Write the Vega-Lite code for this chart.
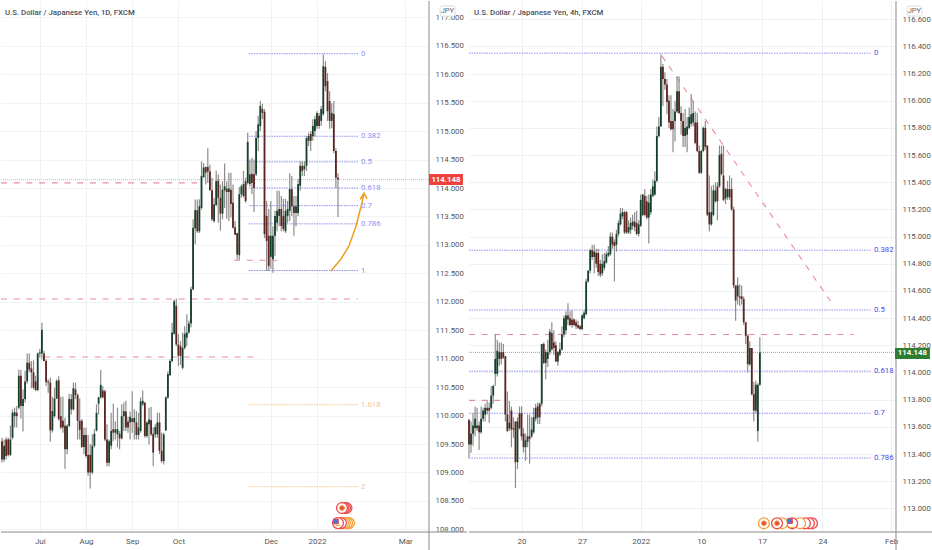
{
"$schema":"https://vega.github.io/schema/vega-lite/v6.json",
"padding":0,
"background":"white",
"bounds":"flush",
"spacing":40,
"config":{"view":{"stroke":null},"axis":{"title":null}},
"datasets":{
"daily":[
{"bar":0,"open":109.55,"high":109.61,"low":109.17,"close":109.23},
{"bar":1,"open":109.23,"high":109.58,"low":109.19,"close":109.47},
{"bar":2,"open":109.58,"high":109.62,"low":109.23,"close":109.29},
{"bar":3,"open":109.58,"high":109.61,"low":109.28,"close":109.31},
{"bar":4,"open":109.31,"high":109.82,"low":109.29,"close":109.58},
{"bar":5,"open":109.61,"high":110.11,"low":109.58,"close":110.05},
{"bar":6,"open":109.99,"high":110.14,"low":109.79,"close":110.06},
{"bar":7,"open":110.05,"high":110.17,"low":109.79,"close":109.99},
{"bar":8,"open":110.14,"high":110.81,"low":110.11,"close":110.70},
{"bar":9,"open":110.70,"high":110.80,"low":109.95,"close":110.17},
{"bar":10,"open":110.17,"high":110.46,"low":109.72,"close":110.29},
{"bar":11,"open":110.29,"high":110.79,"low":110.23,"close":110.60},
{"bar":12,"open":110.60,"high":111.09,"low":110.56,"close":110.93},
{"bar":13,"open":110.93,"high":111.09,"low":110.76,"close":110.81},
{"bar":14,"open":110.83,"high":110.96,"low":110.48,"close":110.76},
{"bar":15,"open":110.76,"high":110.97,"low":110.46,"close":110.49},
{"bar":16,"open":110.60,"high":110.70,"low":110.43,"close":110.45},
{"bar":17,"open":110.45,"high":111.11,"low":110.43,"close":111.09},
{"bar":18,"open":111.09,"high":111.17,"low":111.02,"close":111.11},
{"bar":19,"open":111.09,"high":111.63,"low":110.99,"close":111.51},
{"bar":20,"open":111.09,"high":111.14,"low":110.95,"close":110.96},
{"bar":21,"open":110.96,"high":110.99,"low":110.52,"close":110.59},
{"bar":22,"open":110.60,"high":110.64,"low":110.40,"close":110.58},
{"bar":23,"open":110.58,"high":110.67,"low":109.54,"close":109.74},
{"bar":24,"open":109.74,"high":110.33,"low":109.70,"close":110.08},
{"bar":25,"open":109.99,"high":110.49,"low":109.96,"close":110.30},
{"bar":26,"open":110.30,"high":110.64,"low":110.29,"close":110.61},
{"bar":27,"open":110.62,"high":110.69,"low":109.91,"close":109.94},
{"bar":28,"open":109.99,"high":110.33,"low":109.76,"close":109.79},
{"bar":29,"open":109.91,"high":110.33,"low":109.70,"close":109.79},
{"bar":30,"open":109.82,"high":109.96,"low":109.06,"close":109.41},
{"bar":31,"open":109.41,"high":109.85,"low":109.32,"close":109.82},
{"bar":32,"open":109.82,"high":110.38,"low":109.80,"close":110.29},
{"bar":33,"open":110.29,"high":110.38,"low":110.02,"close":110.11},
{"bar":34,"open":110.11,"high":110.58,"low":110.09,"close":110.48},
{"bar":35,"open":110.46,"high":110.58,"low":110.29,"close":110.36},
{"bar":36,"open":110.36,"high":110.39,"low":109.58,"close":109.91},
{"bar":37,"open":109.91,"high":110.30,"low":109.58,"close":109.75},
{"bar":38,"open":109.91,"high":109.94,"low":109.43,"close":109.45},
{"bar":39,"open":109.45,"high":109.79,"low":109.32,"close":109.66},
{"bar":40,"open":109.66,"high":109.79,"low":109.26,"close":109.29},
{"bar":41,"open":109.31,"high":109.66,"low":108.94,"close":109.00},
{"bar":42,"open":109.31,"high":109.50,"low":108.72,"close":109.00},
{"bar":43,"open":109.00,"high":109.67,"low":108.97,"close":109.47},
{"bar":44,"open":109.47,"high":109.76,"low":109.44,"close":109.68},
{"bar":45,"open":109.74,"high":110.20,"low":109.72,"close":110.05},
{"bar":46,"open":110.21,"high":110.33,"low":110.02,"close":110.32},
{"bar":47,"open":110.32,"high":110.80,"low":110.30,"close":110.54},
{"bar":48,"open":110.44,"high":110.52,"low":110.30,"close":110.32},
{"bar":49,"open":110.43,"high":110.46,"low":109.55,"close":109.58},
{"bar":50,"open":109.58,"high":109.85,"low":109.11,"close":109.17},
{"bar":51,"open":109.17,"high":109.58,"low":109.11,"close":109.55},
{"bar":52,"open":109.47,"high":110.05,"low":109.41,"close":109.73},
{"bar":53,"open":109.76,"high":110.21,"low":109.55,"close":109.70},
{"bar":54,"open":109.70,"high":109.90,"low":109.58,"close":109.76},
{"bar":55,"open":109.67,"high":110.14,"low":109.44,"close":109.76},
{"bar":56,"open":109.68,"high":109.73,"low":109.41,"close":109.60},
{"bar":57,"open":109.60,"high":110.20,"low":109.58,"close":109.99},
{"bar":58,"open":109.99,"high":110.23,"low":109.73,"close":110.08},
{"bar":59,"open":110.07,"high":110.26,"low":109.73,"close":109.79},
{"bar":60,"open":109.89,"high":109.98,"low":109.70,"close":109.79},
{"bar":61,"open":109.88,"high":110.07,"low":109.58,"close":109.98},
{"bar":62,"open":109.95,"high":110.43,"low":109.70,"close":109.89},
{"bar":63,"open":109.88,"high":110.11,"low":109.58,"close":109.96},
{"bar":64,"open":109.88,"high":110.08,"low":109.58,"close":109.66},
{"bar":65,"open":109.66,"high":110.05,"low":109.58,"close":109.79},
{"bar":66,"open":109.73,"high":110.32,"low":109.70,"close":110.25},
{"bar":67,"open":110.20,"high":110.44,"low":110.17,"close":110.26},
{"bar":68,"open":110.23,"high":110.23,"low":109.61,"close":109.64},
{"bar":69,"open":109.64,"high":109.90,"low":109.61,"close":109.88},
{"bar":70,"open":109.85,"high":110.14,"low":109.49,"close":109.93},
{"bar":71,"open":109.92,"high":110.15,"low":109.64,"close":109.67},
{"bar":72,"open":109.68,"high":109.79,"low":109.11,"close":109.35},
{"bar":73,"open":109.67,"high":109.85,"low":109.61,"close":109.80},
{"bar":74,"open":109.67,"high":110.05,"low":109.61,"close":109.88},
{"bar":75,"open":109.88,"high":110.05,"low":109.32,"close":109.38},
{"bar":76,"open":109.38,"high":109.70,"low":109.17,"close":109.20},
{"bar":77,"open":109.20,"high":109.70,"low":109.14,"close":109.67},
{"bar":78,"open":109.74,"high":110.34,"low":109.73,"close":110.32},
{"bar":79,"open":110.32,"high":110.78,"low":110.29,"close":110.73},
{"bar":80,"open":110.71,"high":110.99,"low":110.70,"close":110.96},
{"bar":81,"open":110.96,"high":111.63,"low":110.93,"close":111.46},
{"bar":82,"open":111.44,"high":112.04,"low":111.42,"close":112.01},
{"bar":83,"open":111.93,"high":112.06,"low":111.22,"close":111.25},
{"bar":84,"open":111.25,"high":111.43,"low":110.87,"close":111.05},
{"bar":85,"open":111.22,"high":111.31,"low":110.89,"close":111.05},
{"bar":86,"open":110.84,"high":111.46,"low":110.81,"close":111.19},
{"bar":87,"open":111.19,"high":111.57,"low":111.16,"close":111.44},
{"bar":88,"open":111.37,"high":111.78,"low":111.22,"close":111.46},
{"bar":89,"open":111.46,"high":111.67,"low":111.44,"close":111.62},
{"bar":90,"open":111.62,"high":112.27,"low":111.55,"close":112.22},
{"bar":91,"open":112.22,"high":113.45,"low":112.20,"close":113.30},
{"bar":92,"open":113.29,"high":113.80,"low":113.01,"close":113.61},
{"bar":93,"open":113.61,"high":113.80,"low":113.21,"close":113.24},
{"bar":94,"open":113.24,"high":113.80,"low":113.21,"close":113.68},
{"bar":95,"open":113.65,"high":114.47,"low":113.62,"close":114.21},
{"bar":96,"open":114.19,"high":114.44,"low":114.18,"close":114.36},
{"bar":97,"open":114.37,"high":114.38,"low":114.06,"close":114.27},
{"bar":98,"open":114.37,"high":114.70,"low":114.09,"close":114.29},
{"bar":99,"open":114.29,"high":114.41,"low":113.95,"close":113.96},
{"bar":100,"open":113.96,"high":114.18,"low":113.42,"close":113.45},
{"bar":101,"open":113.42,"high":113.83,"low":113.39,"close":113.71},
{"bar":102,"open":113.70,"high":114.31,"low":113.68,"close":114.12},
{"bar":103,"open":114.13,"high":114.24,"low":113.39,"close":113.83},
{"bar":104,"open":113.83,"high":114.06,"low":113.25,"close":113.55},
{"bar":105,"open":113.55,"high":114.12,"low":113.45,"close":113.97},
{"bar":106,"open":113.96,"high":114.43,"low":113.65,"close":114.03},
{"bar":107,"open":113.99,"high":114.12,"low":113.46,"close":113.93},
{"bar":108,"open":113.93,"high":114.27,"low":113.42,"close":113.99},
{"bar":109,"open":113.97,"high":114.27,"low":113.48,"close":113.72},
{"bar":110,"open":113.74,"high":114.06,"low":113.29,"close":113.30},
{"bar":111,"open":113.31,"high":113.42,"low":113.17,"close":113.18},
{"bar":112,"open":113.21,"high":113.21,"low":112.74,"close":112.83},
{"bar":113,"open":112.82,"high":114.02,"low":112.74,"close":113.89},
{"bar":114,"open":113.89,"high":114.06,"low":113.83,"close":114.03},
{"bar":115,"open":113.86,"high":114.30,"low":113.83,"close":114.07},
{"bar":116,"open":114.12,"high":114.18,"low":113.74,"close":113.77},
{"bar":117,"open":114.09,"high":114.97,"low":114.06,"close":114.81},
{"bar":118,"open":114.07,"high":114.50,"low":114.03,"close":114.24},
{"bar":119,"open":114.25,"high":114.53,"low":113.89,"close":114.09},
{"bar":120,"open":114.24,"high":114.50,"low":113.58,"close":114.00},
{"bar":121,"open":114.24,"high":115.00,"low":114.21,"close":114.88},
{"bar":122,"open":114.88,"high":115.27,"low":114.65,"close":115.12},
{"bar":123,"open":115.09,"high":115.53,"low":115.00,"close":115.44},
{"bar":124,"open":115.39,"high":115.48,"low":115.21,"close":115.32},
{"bar":125,"open":115.34,"high":115.39,"low":113.12,"close":113.19},
{"bar":126,"open":113.51,"high":113.77,"low":112.54,"close":113.07},
{"bar":127,"open":113.16,"high":113.63,"low":112.54,"close":112.63},
{"bar":128,"open":112.79,"high":113.77,"low":112.58,"close":113.16},
{"bar":129,"open":112.75,"high":113.33,"low":112.51,"close":113.16},
{"bar":130,"open":113.16,"high":113.60,"low":112.81,"close":113.51},
{"bar":131,"open":113.39,"high":113.95,"low":113.24,"close":113.60},
{"bar":132,"open":113.51,"high":113.95,"low":113.33,"close":113.63},
{"bar":133,"open":113.63,"high":113.86,"low":113.24,"close":113.33},
{"bar":134,"open":113.51,"high":113.81,"low":113.24,"close":113.28},
{"bar":135,"open":113.24,"high":113.81,"low":113.21,"close":113.60},
{"bar":136,"open":113.51,"high":113.77,"low":113.39,"close":113.63},
{"bar":137,"open":113.60,"high":114.26,"low":113.42,"close":113.98},
{"bar":138,"open":113.98,"high":114.21,"low":113.51,"close":113.68},
{"bar":139,"open":113.68,"high":113.86,"low":113.16,"close":113.56},
{"bar":140,"open":113.56,"high":113.86,"low":113.33,"close":113.68},
{"bar":141,"open":113.56,"high":114.16,"low":113.51,"close":114.07},
{"bar":142,"open":114.04,"high":114.47,"low":113.95,"close":114.39},
{"bar":143,"open":114.39,"high":114.47,"low":114.21,"close":114.30},
{"bar":144,"open":114.33,"high":114.47,"low":114.21,"close":114.39},
{"bar":145,"open":114.39,"high":114.91,"low":114.30,"close":114.88},
{"bar":146,"open":114.83,"high":114.97,"low":114.74,"close":114.91},
{"bar":147,"open":114.95,"high":115.00,"low":114.65,"close":114.83},
{"bar":148,"open":114.91,"high":115.21,"low":114.83,"close":115.09},
{"bar":149,"open":115.00,"high":115.27,"low":114.91,"close":115.21},
{"bar":150,"open":115.09,"high":115.35,"low":115.04,"close":115.32},
{"bar":151,"open":115.27,"high":115.32,"low":115.04,"close":115.09},
{"bar":152,"open":115.18,"high":115.44,"low":115.09,"close":115.39},
{"bar":153,"open":115.30,"high":116.35,"low":115.27,"close":116.14},
{"bar":154,"open":116.13,"high":116.23,"low":115.70,"close":115.79},
{"bar":155,"open":115.88,"high":116.02,"low":115.18,"close":115.35},
{"bar":156,"open":115.53,"high":115.70,"low":115.04,"close":115.18},
{"bar":157,"open":115.18,"high":115.49,"low":115.05,"close":115.32},
{"bar":158,"open":115.30,"high":115.53,"low":114.61,"close":114.65},
{"bar":159,"open":114.65,"high":114.70,"low":114.00,"close":114.18},
{"bar":160,"open":114.18,"high":114.26,"low":113.49,"close":114.148}
],
"h4":[
{"bar":0,"open":113.65,"high":113.66,"low":113.37,"close":113.47},
{"bar":1,"open":113.47,"high":113.64,"low":113.41,"close":113.55},
{"bar":2,"open":113.55,"high":113.70,"low":113.46,"close":113.61},
{"bar":3,"open":113.59,"high":113.75,"low":113.53,"close":113.66},
{"bar":4,"open":113.59,"high":113.74,"low":113.57,"close":113.61},
{"bar":5,"open":113.61,"high":113.64,"low":113.43,"close":113.56},
{"bar":6,"open":113.56,"high":113.75,"low":113.55,"close":113.66},
{"bar":7,"open":113.66,"high":113.74,"low":113.64,"close":113.72},
{"bar":8,"open":113.69,"high":113.77,"low":113.64,"close":113.74},
{"bar":9,"open":113.74,"high":113.79,"low":113.69,"close":113.72},
{"bar":10,"open":113.74,"high":113.78,"low":113.63,"close":113.72},
{"bar":11,"open":113.74,"high":113.90,"low":113.73,"close":113.83},
{"bar":12,"open":113.83,"high":113.91,"low":113.77,"close":113.90},
{"bar":13,"open":113.99,"high":114.28,"low":113.90,"close":114.10},
{"bar":14,"open":113.99,"high":114.24,"low":113.97,"close":114.16},
{"bar":15,"open":114.10,"high":114.22,"low":114.05,"close":114.15},
{"bar":16,"open":114.15,"high":114.22,"low":114.06,"close":114.10},
{"bar":17,"open":114.15,"high":114.21,"low":114.10,"close":114.11},
{"bar":18,"open":114.12,"high":114.12,"low":113.64,"close":113.69},
{"bar":19,"open":113.69,"high":113.86,"low":113.56,"close":113.57},
{"bar":20,"open":113.59,"high":113.79,"low":113.57,"close":113.63},
{"bar":21,"open":113.72,"high":113.75,"low":113.45,"close":113.58},
{"bar":22,"open":113.59,"high":113.67,"low":113.52,"close":113.58},
{"bar":23,"open":113.64,"high":113.64,"low":113.15,"close":113.34},
{"bar":24,"open":113.34,"high":113.67,"low":113.29,"close":113.64},
{"bar":25,"open":113.70,"high":113.75,"low":113.58,"close":113.59},
{"bar":26,"open":113.70,"high":113.75,"low":113.50,"close":113.53},
{"bar":27,"open":113.55,"high":113.59,"low":113.41,"close":113.45},
{"bar":28,"open":113.45,"high":113.55,"low":113.35,"close":113.50},
{"bar":29,"open":113.49,"high":113.69,"low":113.45,"close":113.53},
{"bar":30,"open":113.53,"high":113.69,"low":113.33,"close":113.51},
{"bar":31,"open":113.53,"high":113.67,"low":113.52,"close":113.58},
{"bar":32,"open":113.56,"high":113.74,"low":113.55,"close":113.67},
{"bar":33,"open":113.66,"high":113.77,"low":113.64,"close":113.74},
{"bar":34,"open":113.75,"high":113.78,"low":113.62,"close":113.67},
{"bar":35,"open":113.77,"high":113.78,"low":113.62,"close":113.67},
{"bar":36,"open":113.77,"high":114.21,"low":113.75,"close":114.21},
{"bar":37,"open":114.21,"high":114.22,"low":114.06,"close":114.07},
{"bar":38,"open":114.07,"high":114.17,"low":113.95,"close":114.15},
{"bar":39,"open":114.10,"high":114.24,"low":114.04,"close":114.15},
{"bar":40,"open":114.15,"high":114.32,"low":114.13,"close":114.30},
{"bar":41,"open":114.29,"high":114.37,"low":114.16,"close":114.17},
{"bar":42,"open":114.22,"high":114.31,"low":114.13,"close":114.18},
{"bar":43,"open":114.20,"high":114.23,"low":114.08,"close":114.08},
{"bar":44,"open":114.08,"high":114.16,"low":114.05,"close":114.15},
{"bar":45,"open":114.13,"high":114.22,"low":114.12,"close":114.17},
{"bar":46,"open":114.17,"high":114.34,"low":114.16,"close":114.28},
{"bar":47,"open":114.28,"high":114.42,"low":114.26,"close":114.40},
{"bar":48,"open":114.31,"high":114.45,"low":114.28,"close":114.42},
{"bar":49,"open":114.42,"high":114.51,"low":114.35,"close":114.39},
{"bar":50,"open":114.40,"high":114.45,"low":114.34,"close":114.35},
{"bar":51,"open":114.39,"high":114.46,"low":114.33,"close":114.35},
{"bar":52,"open":114.39,"high":114.40,"low":114.34,"close":114.35},
{"bar":53,"open":114.37,"high":114.39,"low":114.32,"close":114.34},
{"bar":54,"open":114.35,"high":114.38,"low":114.32,"close":114.33},
{"bar":55,"open":114.34,"high":114.35,"low":114.31,"close":114.32},
{"bar":56,"open":114.32,"high":114.43,"low":114.31,"close":114.42},
{"bar":57,"open":114.40,"high":114.46,"low":114.39,"close":114.44},
{"bar":58,"open":114.43,"high":114.69,"low":114.42,"close":114.67},
{"bar":59,"open":114.67,"high":114.75,"low":114.66,"close":114.75},
{"bar":60,"open":114.75,"high":114.91,"low":114.73,"close":114.90},
{"bar":61,"open":114.90,"high":114.94,"low":114.83,"close":114.85},
{"bar":62,"open":114.85,"high":114.94,"low":114.73,"close":114.89},
{"bar":63,"open":114.88,"high":114.91,"low":114.77,"close":114.80},
{"bar":64,"open":114.88,"high":114.91,"low":114.71,"close":114.74},
{"bar":65,"open":114.80,"high":114.83,"low":114.70,"close":114.72},
{"bar":66,"open":114.73,"high":114.87,"low":114.71,"close":114.80},
{"bar":67,"open":114.77,"high":114.88,"low":114.75,"close":114.82},
{"bar":68,"open":114.81,"high":114.89,"low":114.80,"close":114.87},
{"bar":69,"open":114.86,"high":114.93,"low":114.85,"close":114.88},
{"bar":70,"open":114.87,"high":115.03,"low":114.86,"close":115.00},
{"bar":71,"open":115.00,"high":115.03,"low":114.91,"close":114.94},
{"bar":72,"open":114.96,"high":114.98,"low":114.67,"close":114.93},
{"bar":73,"open":114.94,"high":115.05,"low":114.89,"close":115.02},
{"bar":74,"open":115.02,"high":115.12,"low":115.00,"close":115.10},
{"bar":75,"open":115.09,"high":115.21,"low":115.08,"close":115.17},
{"bar":76,"open":115.15,"high":115.21,"low":115.13,"close":115.18},
{"bar":77,"open":115.18,"high":115.19,"low":115.02,"close":115.03},
{"bar":78,"open":115.18,"high":115.19,"low":115.02,"close":115.03},
{"bar":79,"open":115.03,"high":115.12,"low":115.02,"close":115.07},
{"bar":80,"open":115.05,"high":115.14,"low":115.02,"close":115.10},
{"bar":81,"open":115.08,"high":115.16,"low":115.05,"close":115.11},
{"bar":82,"open":115.11,"high":115.18,"low":115.04,"close":115.07},
{"bar":83,"open":115.10,"high":115.19,"low":115.01,"close":115.02},
{"bar":84,"open":115.02,"high":115.12,"low":115.00,"close":115.09},
{"bar":85,"open":115.08,"high":115.31,"low":115.07,"close":115.27},
{"bar":86,"open":115.16,"high":115.31,"low":115.15,"close":115.31},
{"bar":87,"open":115.30,"high":115.35,"low":115.15,"close":115.16},
{"bar":88,"open":115.26,"high":115.30,"low":115.13,"close":115.14},
{"bar":89,"open":115.14,"high":115.31,"low":114.95,"close":115.25},
{"bar":90,"open":115.18,"high":115.35,"low":115.16,"close":115.31},
{"bar":91,"open":115.30,"high":115.42,"low":115.29,"close":115.37},
{"bar":92,"open":115.31,"high":115.48,"low":115.30,"close":115.41},
{"bar":93,"open":115.41,"high":115.81,"low":115.40,"close":115.74},
{"bar":94,"open":115.74,"high":115.88,"low":115.73,"close":115.81},
{"bar":95,"open":115.81,"high":116.34,"low":115.81,"close":116.25},
{"bar":96,"open":116.25,"high":116.27,"low":115.96,"close":116.16},
{"bar":97,"open":116.16,"high":116.21,"low":116.08,"close":116.12},
{"bar":98,"open":116.12,"high":116.16,"low":115.90,"close":115.99},
{"bar":99,"open":116.00,"high":116.04,"low":115.80,"close":115.84},
{"bar":100,"open":115.85,"high":116.04,"low":115.78,"close":115.79},
{"bar":101,"open":115.85,"high":115.94,"low":115.62,"close":115.79},
{"bar":102,"open":115.85,"high":116.00,"low":115.70,"close":115.92},
{"bar":103,"open":115.92,"high":116.18,"low":115.91,"close":116.07},
{"bar":104,"open":116.07,"high":116.18,"low":115.90,"close":115.91},
{"bar":105,"open":115.91,"high":115.96,"low":115.75,"close":115.85},
{"bar":106,"open":115.85,"high":115.91,"low":115.66,"close":115.74},
{"bar":107,"open":115.74,"high":115.94,"low":115.66,"close":115.80},
{"bar":108,"open":115.75,"high":115.88,"low":115.62,"close":115.81},
{"bar":109,"open":115.80,"high":115.95,"low":115.79,"close":115.88},
{"bar":110,"open":115.83,"high":116.05,"low":115.81,"close":115.90},
{"bar":111,"open":115.84,"high":116.00,"low":115.81,"close":115.91},
{"bar":112,"open":115.84,"high":115.92,"low":115.68,"close":115.69},
{"bar":113,"open":115.84,"high":115.91,"low":115.62,"close":115.63},
{"bar":114,"open":115.63,"high":115.67,"low":115.46,"close":115.47},
{"bar":115,"open":115.47,"high":115.64,"low":115.46,"close":115.63},
{"bar":116,"open":115.63,"high":115.81,"low":115.62,"close":115.80},
{"bar":117,"open":115.80,"high":115.85,"low":115.64,"close":115.66},
{"bar":118,"open":115.67,"high":115.67,"low":115.15,"close":115.16},
{"bar":119,"open":115.18,"high":115.45,"low":115.04,"close":115.09},
{"bar":120,"open":115.09,"high":115.37,"low":115.08,"close":115.18},
{"bar":121,"open":115.16,"high":115.38,"low":115.15,"close":115.34},
{"bar":122,"open":115.26,"high":115.40,"low":115.25,"close":115.34},
{"bar":123,"open":115.37,"high":115.40,"low":115.12,"close":115.26},
{"bar":124,"open":115.37,"high":115.67,"low":115.36,"close":115.60},
{"bar":125,"open":115.61,"high":115.67,"low":115.45,"close":115.46},
{"bar":126,"open":115.45,"high":115.67,"low":115.26,"close":115.27},
{"bar":127,"open":115.28,"high":115.36,"low":115.24,"close":115.35},
{"bar":128,"open":115.29,"high":115.41,"low":115.27,"close":115.35},
{"bar":129,"open":115.35,"high":115.45,"low":115.27,"close":115.29},
{"bar":130,"open":115.35,"high":115.43,"low":115.19,"close":115.20},
{"bar":131,"open":115.20,"high":115.22,"low":114.62,"close":114.64},
{"bar":132,"open":114.64,"high":114.64,"low":114.38,"close":114.53},
{"bar":133,"open":114.56,"high":114.70,"low":114.50,"close":114.64},
{"bar":134,"open":114.56,"high":114.65,"low":114.49,"close":114.55},
{"bar":135,"open":114.56,"high":114.64,"low":114.50,"close":114.54},
{"bar":136,"open":114.54,"high":114.56,"low":114.35,"close":114.37},
{"bar":137,"open":114.37,"high":114.37,"low":114.21,"close":114.27},
{"bar":138,"open":114.27,"high":114.28,"low":114.00,"close":114.06},
{"bar":139,"open":114.06,"high":114.23,"low":114.05,"close":114.18},
{"bar":140,"open":114.18,"high":114.18,"low":113.83,"close":113.84},
{"bar":141,"open":113.84,"high":113.93,"low":113.64,"close":113.72},
{"bar":142,"open":113.72,"high":113.94,"low":113.70,"close":113.91},
{"bar":143,"open":113.57,"high":113.92,"low":113.49,"close":113.91},
{"bar":144,"open":113.91,"high":114.26,"low":113.90,"close":114.148}
],
"fibLeft":[
{"bar":117.6,"bar2":169.5,"price":116.36,"label":"0","family":"fib"},
{"bar":117.6,"bar2":169.5,"price":114.91,"label":"0.382","family":"fib"},
{"bar":117.6,"bar2":169.5,"price":114.46,"label":"0.5","family":"fib"},
{"bar":117.6,"bar2":169.5,"price":114.0,"label":"0.618","family":"fib"},
{"bar":117.6,"bar2":169.5,"price":113.69,"label":"0.7","family":"fib"},
{"bar":117.6,"bar2":169.5,"price":113.37,"label":"0.786","family":"fib"},
{"bar":117.6,"bar2":169.5,"price":112.55,"label":"1","family":"fib"},
{"bar":117.6,"bar2":169.5,"price":110.19,"label":"1.618","family":"ext"},
{"bar":117.6,"bar2":169.5,"price":108.75,"label":"2","family":"ext"}
],
"fibRight":[
{"bar":0,"bar2":199,"price":116.35,"label":"0","family":"fib"},
{"bar":0,"bar2":199,"price":114.90,"label":"0.382","family":"fib"},
{"bar":0,"bar2":199,"price":114.46,"label":"0.5","family":"fib"},
{"bar":0,"bar2":199,"price":114.01,"label":"0.618","family":"fib"},
{"bar":0,"bar2":199,"price":113.70,"label":"0.7","family":"fib"},
{"bar":0,"bar2":199,"price":113.37,"label":"0.786","family":"fib"}
],
"dashLeft":[
{"bar":-0.476,"bar2":169.5,"price":112.05,"price2":112.05},
{"bar":20,"bar2":121,"price":111.03,"price2":111.03},
{"bar":-0.476,"bar2":93,"price":114.09,"price2":114.09},
{"bar":110.5,"bar2":131,"price":112.73,"price2":112.73}
],
"dashRight":[
{"bar":0,"bar2":190.4,"price":114.28,"price2":114.28},
{"bar":0,"bar2":15.4,"price":113.795,"price2":113.795},
{"bar":95.5,"bar2":178.9,"price":116.33,"price2":114.526}
],
"lastLeft":[{"bar":-0.476,"bar2":203.33,"price":114.148}],
"lastRight":[{"bar":0,"bar2":211.4,"price":114.148}],
"arrow":[
{"bar":156.7,"price":112.54,"part":"curve"},
{"bar":161.4,"price":112.75,"part":"curve"},
{"bar":165.2,"price":112.98,"part":"curve"},
{"bar":168.6,"price":113.33,"part":"curve"},
{"bar":171,"price":113.68,"part":"curve"},
{"bar":172.4,"price":113.91,"part":"curve"},
{"bar":170.5,"price":113.80,"part":"head"},
{"bar":172.4,"price":113.91,"part":"head"},
{"bar":173.8,"price":113.81,"part":"head"}
],
"ringsLeft":[
{"bar":165.2,"price":108.11,"kind":"orange"},
{"bar":164.3,"price":108.11,"kind":"orange"},
{"bar":163.3,"price":108.11,"kind":"orange"},
{"bar":162.4,"price":108.11,"kind":"orange"},
{"bar":161.4,"price":108.11,"kind":"red"},
{"bar":160,"price":108.11,"kind":"red"},
{"bar":164,"price":108.376,"kind":"red"},
{"bar":163.3,"price":108.376,"kind":"red"},
{"bar":162.6,"price":108.376,"kind":"red"},
{"bar":161.9,"price":108.376,"kind":"red"}
],
"dotsLeft":[
{"bar":161.9,"price":108.376,"kind":"dot"},
{"bar":159,"price":108.14,"kind":"canton"},
{"bar":160,"price":108.07,"kind":"stripe"}
],
"ringsRight":[
{"bar":169.8,"price":112.89,"kind":"red"},
{"bar":168.3,"price":112.89,"kind":"red"},
{"bar":166.3,"price":112.89,"kind":"red"},
{"bar":163.9,"price":112.89,"kind":"orange"},
{"bar":160,"price":112.89,"kind":"red"},
{"bar":155,"price":112.89,"kind":"orange"},
{"bar":152.5,"price":112.89,"kind":"red"},
{"bar":146,"price":112.89,"kind":"orange"}
],
"dotsRight":[
{"bar":146,"price":112.89,"kind":"dot"},
{"bar":152.5,"price":112.89,"kind":"dot"},
{"bar":158.9,"price":112.907,"kind":"canton"},
{"bar":160,"price":112.86,"kind":"stripe"}
],
"frameLeft":[
{"bar":203.33,"bar2":203.33,"price":117.287,"price2":107.62},
{"bar":-0.476,"bar2":221.4,"price":107.954,"price2":107.954}
],
"frameRight":[
{"bar":211.4,"bar2":211.4,"price":116.734,"price2":112.687},
{"bar":0,"bar2":229.7,"price":112.826,"price2":112.826}
],
"unitLeft":[{"bar":208.6,"bar2":215.7,"price":117.2,"price2":117.02,"mid":212.1,"midPrice":117.11,"label":"JPY"}],
"unitRight":[{"bar":216.8,"bar2":224.3,"price":116.697,"price2":116.623,"mid":220.5,"midPrice":116.66,"label":"JPY"}],
"tagLeft":[{"bar":203.33,"bar2":219.5,"price":114.246,"price2":114.053,"mid":211.4,"midPrice":114.148,"label":"114.148"}],
"tagRight":[{"bar":210.9,"bar2":228.2,"price":114.18,"price2":114.10,"mid":219.5,"midPrice":114.14,"label":"114.148"}]
},
"hconcat":[
{
"width":428,"height":531,
"title":{"text":"U.S. Dollar / Japanese Yen, 1D, FXCM","anchor":"start","frame":"group","offset":-16,"dx":4,"fontSize":7.8,"font":"Roboto","fontWeight":500,"color":"#4a4f5a"},
"encoding":{
"x":{"field":"bar","type":"quantitative","scale":{"domain":[-0.476,203.33],"nice":false,"zero":false},
"axis":{"orient":"bottom","values":[18,40,62,84,128,150,192],"labelExpr":"datum.value==18?'Jul':datum.value==40?'Aug':datum.value==62?'Sep':datum.value==84?'Oct':datum.value==128?'Dec':datum.value==150?'2022':'Mar'","grid":true,"gridColor":"#f0f3f6","ticks":false,"domain":false,"labelFont":"Roboto","labelFontSize":8,"labelColor":"#555","labelPadding":5,"labelFlush":false,"labelOverlap":false}},
"y":{"field":"price","type":"quantitative","scale":{"domain":[107.954,117.287],"nice":false,"zero":false},
"axis":{"orient":"right","values":[108,108.5,109,109.5,110,110.5,111,111.5,112,112.5,113,113.5,114,114.5,115,115.5,116,116.5,117],"format":".3f","grid":true,"gridColor":"#f0f3f6","ticks":false,"domain":false,"labelFont":"Roboto","labelFontSize":7.8,"labelColor":"#555","labelPadding":6,"labelBound":false,"labelOverlap":false}}
},
"layer":[
{"data":{"name":"lastLeft"},"mark":{"type":"rule","color":"#f4a9a9","strokeWidth":1,"strokeDash":[1,1]},"encoding":{"x2":{"field":"bar2"}}},
{"data":{"name":"fibLeft"},"mark":{"type":"rule","strokeWidth":1,"strokeDash":[1.5,1]},"encoding":{"x2":{"field":"bar2"},"color":{"field":"family","type":"nominal","scale":{"domain":["fib","ext"],"range":["#9090f0","#f7c48c"]},"legend":null}}},
{"data":{"name":"dashLeft"},"mark":{"type":"rule","color":"#e98aa5","strokeWidth":1.1,"strokeDash":[6,6.7]},"encoding":{"x2":{"field":"bar2"},"y2":{"field":"price2"}}},
{"data":{"name":"daily"},"mark":{"type":"rule","color":"#8c8c8c","strokeWidth":1.2},"encoding":{"y":{"field":"low","type":"quantitative","title":null,"scale":{"domain":[107.954,117.287],"nice":false,"zero":false}},"y2":{"field":"high"}}},
{"data":{"name":"daily"},"mark":{"type":"rule","strokeWidth":1.8},"encoding":{"y":{"field":"open","type":"quantitative","title":null,"scale":{"domain":[107.954,117.287],"nice":false,"zero":false}},"y2":{"field":"close"},"color":{"condition":{"test":"datum.close>=datum.open","value":"#15402a"},"value":"#5e2420"}}},
{"data":{"name":"arrow"},"mark":{"type":"line","color":"#f09a1a","strokeWidth":1.5},"encoding":{"detail":{"field":"part","type":"nominal"}}},
{"data":{"name":"fibLeft"},"mark":{"type":"text","align":"left","baseline":"middle","dx":3,"font":"Roboto","fontSize":7.8},"encoding":{"x":{"field":"bar2","type":"quantitative","title":null,"scale":{"domain":[-0.476,203.33],"nice":false,"zero":false}},"text":{"field":"label"},"color":{"field":"family","type":"nominal","scale":{"domain":["fib","ext"],"range":["#4b4bea","#f5a83c"]},"legend":null}}},
{"data":{"name":"ringsLeft"},"mark":{"type":"point","filled":false,"fill":"white","fillOpacity":1,"strokeWidth":1.3,"size":119,"opacity":1},"encoding":{"stroke":{"field":"kind","type":"nominal","scale":{"domain":["orange","red"],"range":["#f2a33a","#ee4b4b"]},"legend":null}}},
{"data":{"name":"dotsLeft"},"mark":{"type":"point","filled":false,"strokeWidth":1,"size":24,"opacity":1,"fillOpacity":1},"encoding":{"fill":{"field":"kind","type":"nominal","scale":{"domain":["dot","canton","stripe"],"range":["#ee4b4b","#4a78d6","#ee4b4b"]},"legend":null},"stroke":{"field":"kind","type":"nominal","scale":{"domain":["dot","canton","stripe"],"range":["#ee4b4b","#4a78d6","#ee4b4b"]},"legend":null},"shape":{"field":"kind","type":"nominal","scale":{"domain":["dot","canton","stripe"],"range":["circle","square","stroke"]},"legend":null}}},
{"data":{"name":"frameLeft"},"mark":{"type":"rule","color":"#8a8a8a","strokeWidth":1},"encoding":{"x2":{"field":"bar2"},"y2":{"field":"price2"}}},
{"data":{"name":"unitLeft"},"mark":{"type":"rect","fill":"white","stroke":"#d8dbe0","strokeWidth":1,"cornerRadius":2},"encoding":{"x2":{"field":"bar2"},"y2":{"field":"price2"}}},
{"data":{"name":"unitLeft"},"mark":{"type":"text","font":"Roboto","fontSize":7.5,"color":"#666"},"encoding":{"x":{"field":"mid","type":"quantitative","title":null,"scale":{"domain":[-0.476,203.33],"nice":false,"zero":false}},"y":{"field":"midPrice","type":"quantitative","title":null,"scale":{"domain":[107.954,117.287],"nice":false,"zero":false}},"text":{"field":"label"}}},
{"data":{"name":"tagLeft"},"mark":{"type":"rect","fill":"#ef4040"},"encoding":{"x2":{"field":"bar2"},"y2":{"field":"price2"}}},
{"data":{"name":"tagLeft"},"mark":{"type":"text","font":"Roboto","fontSize":7.8,"fontWeight":"bold","color":"white"},"encoding":{"x":{"field":"mid","type":"quantitative","title":null,"scale":{"domain":[-0.476,203.33],"nice":false,"zero":false}},"y":{"field":"midPrice","type":"quantitative","title":null,"scale":{"domain":[107.954,117.287],"nice":false,"zero":false}},"text":{"field":"label"}}}
]
},
{
"width":427,"height":531,
"title":{"text":"U.S. Dollar / Japanese Yen, 4h, FXCM","anchor":"start","frame":"group","offset":-16,"dx":5,"fontSize":7.8,"font":"Roboto","fontWeight":500,"color":"#4a4f5a"},
"encoding":{
"x":{"field":"bar","type":"quantitative","scale":{"domain":[0,211.4],"nice":false,"zero":false},
"axis":{"orient":"bottom","values":[26,56,85,115,145,175,209],"labelExpr":"datum.value==26?'20':datum.value==56?'27':datum.value==85?'2022':datum.value==115?'10':datum.value==145?'17':datum.value==175?'24':'Feb'","grid":true,"gridColor":"#eef1f4","ticks":false,"domain":false,"labelFont":"Roboto","labelFontSize":8,"labelColor":"#555","labelPadding":5,"labelFlush":false,"labelOverlap":false}},
"y":{"field":"price","type":"quantitative","scale":{"domain":[112.826,116.734],"nice":false,"zero":false},
"axis":{"orient":"right","values":[113,113.2,113.4,113.6,113.8,114,114.2,114.4,114.6,114.8,115,115.2,115.4,115.6,115.8,116,116.2,116.4,116.6],"format":".3f","grid":true,"gridColor":"#eef1f4","ticks":false,"domain":false,"labelFont":"Roboto","labelFontSize":7.8,"labelColor":"#555","labelPadding":6,"labelBound":false,"labelOverlap":false}}
},
"layer":[
{"data":{"name":"lastRight"},"mark":{"type":"rule","color":"#9aa39a","strokeWidth":1,"strokeDash":[1,1]},"encoding":{"x2":{"field":"bar2"}}},
{"data":{"name":"fibRight"},"mark":{"type":"rule","color":"#9090f0","strokeWidth":1,"strokeDash":[1.5,1]},"encoding":{"x2":{"field":"bar2"}}},
{"data":{"name":"dashRight"},"mark":{"type":"rule","color":"#e98aa5","strokeWidth":1.1,"strokeDash":[6,6.7]},"encoding":{"x2":{"field":"bar2"},"y2":{"field":"price2"}}},
{"data":{"name":"h4"},"mark":{"type":"rule","color":"#8c8c8c","strokeWidth":1.2},"encoding":{"y":{"field":"low","type":"quantitative","title":null,"scale":{"domain":[112.826,116.734],"nice":false,"zero":false}},"y2":{"field":"high"}}},
{"data":{"name":"h4"},"mark":{"type":"rule","strokeWidth":1.8},"encoding":{"y":{"field":"open","type":"quantitative","title":null,"scale":{"domain":[112.826,116.734],"nice":false,"zero":false}},"y2":{"field":"close"},"color":{"condition":{"test":"datum.close>=datum.open","value":"#15402a"},"value":"#5e2420"}}},
{"data":{"name":"fibRight"},"mark":{"type":"text","align":"left","baseline":"middle","dx":3,"font":"Roboto","fontSize":7.8,"color":"#4b4bea"},"encoding":{"x":{"field":"bar2","type":"quantitative","title":null,"scale":{"domain":[0,211.4],"nice":false,"zero":false}},"text":{"field":"label"}}},
{"data":{"name":"ringsRight"},"mark":{"type":"point","filled":false,"fill":"white","fillOpacity":1,"strokeWidth":1.3,"size":119,"opacity":1},"encoding":{"stroke":{"field":"kind","type":"nominal","scale":{"domain":["orange","red"],"range":["#f2a33a","#ee4b4b"]},"legend":null}}},
{"data":{"name":"dotsRight"},"mark":{"type":"point","filled":false,"strokeWidth":1,"size":24,"opacity":1,"fillOpacity":1},"encoding":{"fill":{"field":"kind","type":"nominal","scale":{"domain":["dot","canton","stripe"],"range":["#ee4b4b","#4a78d6","#ee4b4b"]},"legend":null},"stroke":{"field":"kind","type":"nominal","scale":{"domain":["dot","canton","stripe"],"range":["#ee4b4b","#4a78d6","#ee4b4b"]},"legend":null},"shape":{"field":"kind","type":"nominal","scale":{"domain":["dot","canton","stripe"],"range":["circle","square","stroke"]},"legend":null}}},
{"data":{"name":"frameRight"},"mark":{"type":"rule","color":"#8a8a8a","strokeWidth":1},"encoding":{"x2":{"field":"bar2"},"y2":{"field":"price2"}}},
{"data":{"name":"unitRight"},"mark":{"type":"rect","fill":"white","stroke":"#d8dbe0","strokeWidth":1,"cornerRadius":2},"encoding":{"x2":{"field":"bar2"},"y2":{"field":"price2"}}},
{"data":{"name":"unitRight"},"mark":{"type":"text","font":"Roboto","fontSize":7.5,"color":"#666"},"encoding":{"x":{"field":"mid","type":"quantitative","title":null,"scale":{"domain":[0,211.4],"nice":false,"zero":false}},"y":{"field":"midPrice","type":"quantitative","title":null,"scale":{"domain":[112.826,116.734],"nice":false,"zero":false}},"text":{"field":"label"}}},
{"data":{"name":"tagRight"},"mark":{"type":"rect","fill":"#2e7d32"},"encoding":{"x2":{"field":"bar2"},"y2":{"field":"price2"}}},
{"data":{"name":"tagRight"},"mark":{"type":"text","font":"Roboto","fontSize":7.8,"fontWeight":"bold","color":"white"},"encoding":{"x":{"field":"mid","type":"quantitative","title":null,"scale":{"domain":[0,211.4],"nice":false,"zero":false}},"y":{"field":"midPrice","type":"quantitative","title":null,"scale":{"domain":[112.826,116.734],"nice":false,"zero":false}},"text":{"field":"label"}}}
]
}
]
}
